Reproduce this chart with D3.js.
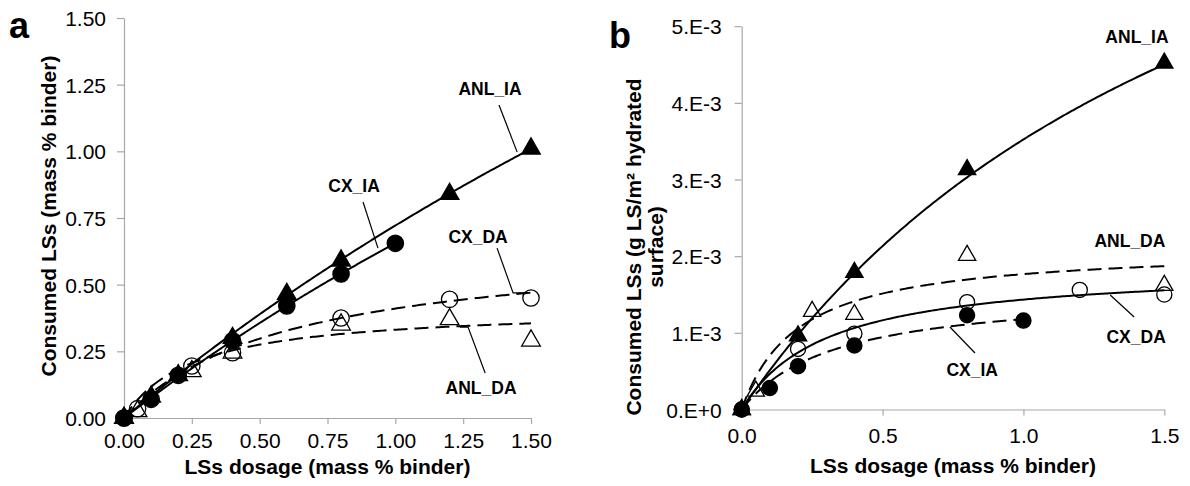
<!DOCTYPE html>
<html>
<head>
<meta charset="utf-8">
<script src="https://cdn.jsdelivr.net/npm/d3@7"></script>
<style>
  html, body { margin: 0; padding: 0; background: #fff; }
  svg { display: block; font-family: "Liberation Sans", Arial, sans-serif; }
</style>
</head>
<body>
<svg id="chart" width="1190" height="486"></svg>
<script>
// ---------- Panel a: consumed LSs in mass % binder ----------
const aDosageANL = [0, 0.1, 0.2, 0.4, 0.6, 0.8, 1.2, 1.5];
const aANL_IA    = [0, 0.08, 0.16, 0.30, 0.465, 0.59, 0.84, 1.01];
const aDosageCXIA = [0, 0.1, 0.2, 0.4, 0.6, 0.8, 1.0];
const aCX_IA      = [0, 0.07, 0.16, 0.29, 0.42, 0.54, 0.655];
const aDosageDA = [0, 0.05, 0.25, 0.4, 0.8, 1.2, 1.5];
const aCX_DA    = [0, 0.035, 0.195, 0.245, 0.375, 0.445, 0.45];
const aANL_DA   = [0, 0.025, 0.175, 0.245, 0.35, 0.37, 0.29];

const aXTicks = [0, 0.25, 0.5, 0.75, 1.0, 1.25, 1.5];
const aXTickLabels = ["0.00", "0.25", "0.50", "0.75", "1.00", "1.25", "1.50"];
const aYTicks = [0, 0.25, 0.5, 0.75, 1.0, 1.25, 1.5];
const aYTickLabels = ["0.00", "0.25", "0.50", "0.75", "1.00", "1.25", "1.50"];

// Fitted isotherms q = k·x / (1 + b·x): [k, b, last dosage]
const aFitANL_IA = [0.844, 0.1695, 1.5];
const aFitCX_IA  = [0.78, 0.19, 1.0];
const aFitCX_DA  = [1.082, 1.636, 1.5];
const aFitANL_DA = [1.635, 3.94, 1.5];

// ---------- Panel b: consumed LSs per m² of hydrated surface ----------
const bDosageANLIA = [0, 0.2, 0.4, 0.8, 1.5];
const bANL_IA      = [0, 0.00096, 0.00179, 0.00313, 0.00452];
const bDosageANLDA = [0, 0.05, 0.25, 0.4, 0.8, 1.5];
const bANL_DA      = [0, 0.00024, 0.00128, 0.00124, 0.00201, 0.00162];
const bDosageCXDA = [0, 0.2, 0.4, 0.8, 1.2, 1.5];
const bCX_DA      = [0, 0.00079, 0.00099, 0.00140, 0.00156, 0.00150];
const bDosageCXIA = [0, 0.1, 0.2, 0.4, 0.8, 1.0];
const bCX_IA      = [0, 0.00028, 0.000565, 0.000835, 0.00123, 0.00116];

const bXTicks = [0, 0.5, 1.0, 1.5];
const bXTickLabels = ["0.0", "0.5", "1.0", "1.5"];
const bYTicks = [0, 0.001, 0.002, 0.003, 0.004, 0.005];
const bYTickLabels = ["0.E+0", "1.E-3", "2.E-3", "3.E-3", "4.E-3", "5.E-3"];

const bFitANL_IA = [0.0054, 0.533, 1.5];
const bFitANL_DA = [0.01056, 4.98, 1.5];
const bFitCX_DA  = [0.00618, 3.31, 1.5];
const bFitCX_IA  = [0.00475, 3.03, 1.0];

// Series callouts: label anchor and leader polyline, in data units
const aCallouts = [
  { text: "ANL_IA", at: [1.349, 1.211], leader: [[1.382, 1.174], [1.449, 0.997]] },
  { text: "CX_IA",  at: [0.848, 0.847], leader: [[0.881, 0.81], [0.936, 0.637]] },
  { text: "CX_DA",  at: [1.305, 0.656], leader: [[1.375, 0.637], [1.434, 0.469], [1.478, 0.469]] },
  { text: "ANL_DA", at: [1.316, 0.09],  leader: [[1.331, 0.169], [1.268, 0.341], [1.238, 0.341]] }
];
const bCallouts = [
  { text: "ANL_IA", at: [1.403, 0.00478], leader: [] },
  { text: "ANL_DA", at: [1.378, 0.00212], leader: [] },
  { text: "CX_DA",  at: [1.40, 0.000867], leader: [[1.308, 0.001493], [1.393, 0.001206]] },
  { text: "CX_IA",  at: [0.818, 0.000437], leader: [[0.739, 0.001076], [0.828, 0.000737]] }
];

const svg = d3.select("#chart");
const AXIS_GREY = "#a8a8a8";

function triangle(size) {
  return d3.symbol().type(d3.symbolTriangle).size(size)();
}

function drawPanel(cfg) {
  const x = d3.scaleLinear().domain(cfg.xDomain).range(cfg.xRange);
  const y = d3.scaleLinear().domain(cfg.yDomain).range(cfg.yRange);
  const g = svg.append("g");

  // axes
  const xAxis = d3.axisBottom(x).tickValues(cfg.xTicks)
    .tickFormat((d, i) => cfg.xTickLabels[i]).tickSizeInner(6).tickSizeOuter(0);
  const yAxis = d3.axisLeft(y).tickValues(cfg.yTicks)
    .tickFormat((d, i) => cfg.yTickLabels[i]).tickSizeInner(7).tickSizeOuter(0);

  const gx = g.append("g").attr("transform", `translate(0,${cfg.yRange[0]})`).call(xAxis);
  const gy = g.append("g").attr("transform", `translate(${cfg.xRange[0]},0)`).call(yAxis);
  [gx, gy].forEach(a => {
    a.select(".domain").attr("stroke", AXIS_GREY).attr("stroke-width", 1.2);
    a.selectAll(".tick line").attr("stroke", AXIS_GREY).attr("stroke-width", 1.2);
    a.selectAll(".tick text").attr("fill", "#000").attr("font-size", 21)
      .attr("font-family", "Liberation Sans, Arial, sans-serif");
  });
  gx.selectAll(".tick text").attr("dy", null).attr("y", cfg.xLabelOffset);
  gy.selectAll(".tick text").attr("dy", "0.36em").attr("x", -cfg.yLabelOffset);

  // fitted curves
  const line = d3.line().x(d => x(d[0])).y(d => y(d[1]));
  cfg.fits.forEach(f => {
    const [k, b, xmax] = f.p;
    const pts = d3.range(0, 201).map(i => {
      const xv = xmax * i / 200;
      return [xv, k * xv / (1 + b * xv)];
    });
    g.append("path").attr("d", line(pts)).attr("fill", "none")
      .attr("stroke", "#000").attr("stroke-width", 2)
      .attr("stroke-dasharray", f.dashed ? "14,7" : null);
  });

  // markers
  cfg.series.forEach(s => {
    const pts = s.xs.map((xv, i) => [xv, s.ys[i]]);
    const sel = g.append("g").selectAll("path").data(pts).join("path")
      .attr("transform", d => `translate(${x(d[0])},${y(d[1])})`)
      .attr("fill", s.filled ? "#000" : "none")
      .attr("stroke", "#000").attr("stroke-width", 1.3);
    if (s.shape === "circle") {
      sel.attr("d", d3.symbol().type(d3.symbolCircle).size(cfg.circleSize)());
    } else {
      sel.attr("d", triangle(cfg.triangleSize));
    }
  });

  // callouts
  cfg.callouts.forEach(c => {
    if (c.leader.length) {
      g.append("path").attr("d", line(c.leader)).attr("fill", "none")
        .attr("stroke", "#000").attr("stroke-width", 1.2);
    }
    g.append("text").attr("x", x(c.at[0])).attr("y", y(c.at[1]))
      .attr("text-anchor", "middle").attr("font-weight", "bold")
      .attr("font-size", 17.5).text(c.text);
  });

  // panel letter
  g.append("text").attr("x", cfg.letterPos[0]).attr("y", cfg.letterPos[1])
    .attr("font-weight", "bold").attr("font-size", 36).text(cfg.letter);

  // axis titles
  g.append("text").attr("x", (cfg.xRange[0] + cfg.xRange[1]) / 2).attr("y", cfg.xTitleY)
    .attr("text-anchor", "middle").attr("font-weight", "bold").attr("font-size", 21)
    .text("LSs dosage (mass % binder)");

  const yt = g.append("text")
    .attr("transform", `translate(${cfg.yTitleX},${cfg.yTitleCY}) rotate(-90)`)
    .attr("text-anchor", "middle").attr("font-weight", "bold").attr("font-size", 21);
  cfg.yTitle.forEach((t, i) => {
    yt.append("tspan").attr("x", 0).attr("y", i * 22).text(t);
  });
}

drawPanel({
  letter: "a", letterPos: [9, 38],
  xDomain: [0, 1.5], yDomain: [0, 1.5],
  xRange: [124, 531], yRange: [418, 18],
  xTicks: aXTicks, xTickLabels: aXTickLabels,
  yTicks: aYTicks, yTickLabels: aYTickLabels,
  xLabelOffset: 30, yLabelOffset: 18,
  xTitleY: 474, yTitleX: 56, yTitleCY: 216,
  yTitle: ["Consumed LSs (mass % binder)"],
  circleSize: 210, triangleSize: 150,
  fits: [
    { p: aFitANL_IA, dashed: false },
    { p: aFitCX_IA, dashed: false },
    { p: aFitCX_DA, dashed: true },
    { p: aFitANL_DA, dashed: true }
  ],
  series: [
    { xs: aDosageDA, ys: aCX_DA, shape: "circle", filled: false },
    { xs: aDosageDA, ys: aANL_DA, shape: "triangle", filled: false },
    { xs: aDosageCXIA, ys: aCX_IA, shape: "circle", filled: true },
    { xs: aDosageANL, ys: aANL_IA, shape: "triangle", filled: true }
  ],
  callouts: aCallouts
});

drawPanel({
  letter: "b", letterPos: [609, 48],
  xDomain: [0, 1.5], yDomain: [0, 0.005],
  xRange: [741.7, 1164.3], yRange: [409.5, 26.2],
  xTicks: bXTicks, xTickLabels: bXTickLabels,
  yTicks: bYTicks, yTickLabels: bYTickLabels,
  xLabelOffset: 33, yLabelOffset: 20,
  xTitleY: 473, yTitleX: 641, yTitleCY: 247,
  yTitle: ["Consumed LSs (g LS/m\u00B2  hydrated", "surface)"],
  circleSize: 180, triangleSize: 130,
  fits: [
    { p: bFitANL_IA, dashed: false },
    { p: bFitANL_DA, dashed: true },
    { p: bFitCX_DA, dashed: false },
    { p: bFitCX_IA, dashed: true }
  ],
  series: [
    { xs: bDosageCXDA, ys: bCX_DA, shape: "circle", filled: false },
    { xs: bDosageANLDA, ys: bANL_DA, shape: "triangle", filled: false },
    { xs: bDosageCXIA, ys: bCX_IA, shape: "circle", filled: true },
    { xs: bDosageANLIA, ys: bANL_IA, shape: "triangle", filled: true }
  ],
  callouts: bCallouts
});
</script>
</body>
</html>
